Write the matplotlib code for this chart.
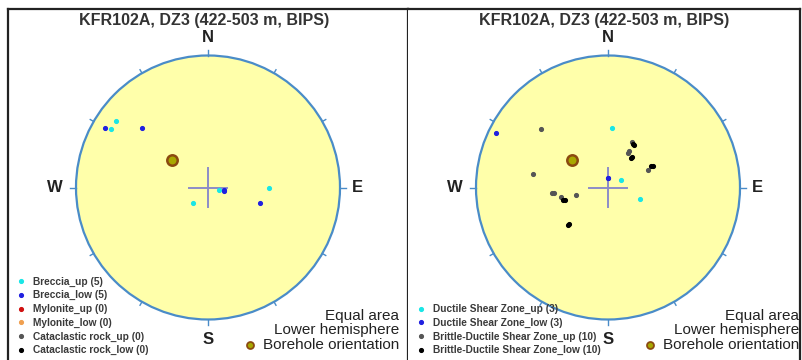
import numpy as np
import matplotlib
matplotlib.use("Agg")
import matplotlib.pyplot as plt
from matplotlib.patches import Circle

plt.rcParams['font.family'] = ['Liberation Sans', 'DejaVu Sans']

title = "KFR102A, DZ3 (422-503 m, BIPS)"

# borehole orientation (trend, plunge in degrees)
bh_trend, bh_plunge = 307, 62

# left panel: rock types, poles as trend / plunge
left_names = ["Breccia_up", "Breccia_low", "Mylonite_up", "Mylonite_low",
              "Cataclastic rock_up", "Cataclastic rock_low"]
left_colors = ["#19e6e6", "#2020e0", "#d01010", "#f0a050", "#555555", "#000000"]
left_trend = [[306, 301, 103, 90, 224],
              [300, 312, 100, 106, 101],
              [], [], [], []]
left_plunge = [[15, 15, 83, 52, 77],
               [11, 33, 80, 56, 80],
               [], [], [], []]

# right panel: shear zones
right_names = ["Ductile Shear Zone_up", "Ductile Shear Zone_low",
               "Brittle-Ductile Shear Zone_up", "Brittle-Ductile Shear Zone_low"]
right_colors = ["#19e6e6", "#2020e0", "#555555", "#000000"]
right_trend = [[4, 61, 110],
               [296, 0, 2],
               [311, 280, 264, 259, 257, 28, 30, 67, 264, 30],
               [254, 227, 30, 38, 64, 254, 227, 31, 38, 64]]
right_plunge = [[53, 81, 69],
                [6, 84, 84],
                [33, 42, 55, 60, 70, 58, 64, 63, 56, 65],
                [62, 56, 59, 67, 60, 61, 57, 59, 66, 59]]


def equal_area(trend, plunge):
    t = np.radians(np.asarray(trend, dtype=float))
    p = np.radians(np.asarray(plunge, dtype=float))
    r = np.sqrt(2) * np.sin((np.pi / 2 - p) / 2)
    return r * np.sin(t), r * np.cos(t)


def draw_net(ax, names, colors, trends, plunges):
    ax.add_patch(Circle((0, 0), 1, facecolor="#ffffaa", edgecolor="#4a8cc8",
                        lw=1.6, zorder=1))
    # ticks every 30 degrees, longer at N/E/S/W
    for az in range(0, 360, 30):
        a = np.radians(az)
        L = 1.045 if az % 90 == 0 else 1.03
        ax.plot([np.sin(a), L * np.sin(a)], [np.cos(a), L * np.cos(a)],
                color="#4a8cc8", lw=1.0, zorder=2)
    # centre cross
    c = 0.145
    ax.plot([-c, c], [0, 0], color="#8c8cc8", lw=1.4, zorder=2)
    ax.plot([0, 0], [-c, c], color="#8c8cc8", lw=1.4, zorder=2)

    for lab, x, y in [("N", 0, 1.14), ("S", 0, -1.155), ("E", 1.13, 0), ("W", -1.16, 0)]:
        ax.text(x, y, lab, ha="center", va="center", fontsize=12,
                fontweight="bold", color="#222222")
    ax.text(-0.03, 1.265, title, ha="center", va="center", fontsize=11.5,
            fontweight="bold", color="#333333")

    handles = []
    for name, col, tr, pl in zip(names, colors, trends, plunges):
        x, y = equal_area(tr, pl)
        h, = ax.plot(x, y, "o", ms=2.7, color=col, mec=col, ls="none", zorder=4,
                     label="%s (%d)" % (name, len(tr)))
        handles.append(h)

    bx, by = equal_area([bh_trend], [bh_plunge])
    ax.plot(bx, by, "o", ms=7.5, mfc="#a8a800", mec="#8b4a10", mew=1.8, zorder=5)

    leg = ax.legend(handles=handles, loc="lower left",
                    bbox_to_anchor=(0.016, 0.0), frameon=False,
                    fontsize=7.3, handlelength=0.5, handletextpad=0.9,
                    labelspacing=0.36, borderaxespad=0.15, borderpad=0.3)
    for t in leg.get_texts():
        t.set_color("#3a3a3a")
        t.set_fontweight("bold")

    ax.text(1.447, -0.970, "Equal area", ha="right", va="center", fontsize=11, color="#222222")
    ax.text(1.447, -1.082, "Lower hemisphere", ha="right", va="center", fontsize=11, color="#222222")
    ax.text(1.447, -1.192, "Borehole orientation", ha="right", va="center", fontsize=11, color="#222222")
    ax.plot([0.318], [-1.192], "o", ms=5, mfc="#a8a800", mec="#8b4a10", mew=1.3,
            clip_on=False)

    ax.set_xticks([])
    ax.set_yticks([])
    ax.spines["bottom"].set_visible(False)
    for s in ax.spines.values():
        s.set_linewidth(1.6)
        s.set_color("#222222")


fig = plt.figure(figsize=(8.02, 3.6), dpi=100)
W, H = 802.0, 360.0
R = 132.0

ax1 = fig.add_axes([8 / W, 0, 400 / W, 351 / H])
ax1.set_xlim((8 - 208) / R, (408 - 208) / R)
ax1.set_ylim((187.5 - 360) / R, (187.5 - 9) / R)
draw_net(ax1, left_names, left_colors, left_trend, left_plunge)

ax2 = fig.add_axes([408 / W, 0, 392 / W, 351 / H])
ax2.set_xlim((408 - 608) / R, (800 - 608) / R)
ax2.set_ylim((187.5 - 360) / R, (187.5 - 9) / R)
draw_net(ax2, right_names, right_colors, right_trend, right_plunge)
ax2.spines["left"].set_visible(False)

fig.savefig("out.png", dpi=100)
